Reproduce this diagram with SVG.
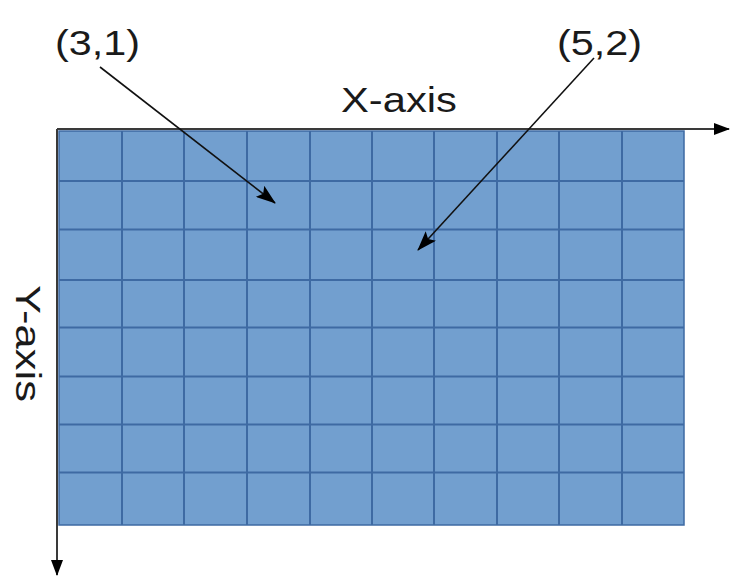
<svg xmlns="http://www.w3.org/2000/svg" width="733" height="576" viewBox="0 0 733 576">
<style>
.lbl{font-family:"Liberation Sans",Arial,sans-serif;font-size:35px;fill:#1a1a1a}
.grid{stroke:#3e6aa3;stroke-width:2;fill:none}
.axis{stroke:#3a3a3a;stroke-width:2;fill:none}
.ptr{stroke:#111;stroke-width:1.6;fill:none}
</style>
<defs>
<marker id="ah" markerUnits="userSpaceOnUse" markerWidth="16" markerHeight="12" refX="15" refY="6" orient="auto">
<path d="M0,0 L16,6 L0,12 Z" fill="#000"/>
</marker>
<marker id="ah2" markerUnits="userSpaceOnUse" markerWidth="20" markerHeight="14" refX="19" refY="7" orient="auto">
<path d="M0,0 L20,7 L0,14 L4,7 Z" fill="#000"/>
</marker>
</defs>
<g id="grid">
<rect x="59" y="131" width="625" height="394" fill="#729fcf" stroke="#3e6aa3" stroke-width="1.5"/>
<path class="grid" d="M122,131V525M184,131V525M247,131V525M310,131V525M372,131V525M434,131V525M497,131V525M559,131V525M622,131V525M59,181H684M59,229.5H684M59,280H684M59,327.5H684M59,376.5H684M59,424.5H684M59,472.5H684"/>
</g>
<g id="connectors">
<line class="axis" x1="57" y1="129" x2="729" y2="129" marker-end="url(#ah)"/>
<line class="axis" x1="57" y1="129" x2="57" y2="575" marker-end="url(#ah)"/>
<line class="ptr" x1="100" y1="67" x2="275" y2="203" marker-end="url(#ah2)"/>
<line class="ptr" x1="594" y1="58" x2="418" y2="250" marker-end="url(#ah2)"/>
</g>
<g id="label-31"><text class="lbl" x="55" y="55" textLength="85" lengthAdjust="spacingAndGlyphs">(3,1)</text></g>
<g id="label-52"><text class="lbl" x="557" y="55" textLength="85" lengthAdjust="spacingAndGlyphs">(5,2)</text></g>
<g id="label-x"><text class="lbl" x="341" y="112" textLength="116" lengthAdjust="spacingAndGlyphs">X-axis</text></g>
<g id="label-y"><text class="lbl" transform="translate(16,285) rotate(90)" x="0" y="0" textLength="117" lengthAdjust="spacingAndGlyphs">Y-axis</text></g>
</svg>
